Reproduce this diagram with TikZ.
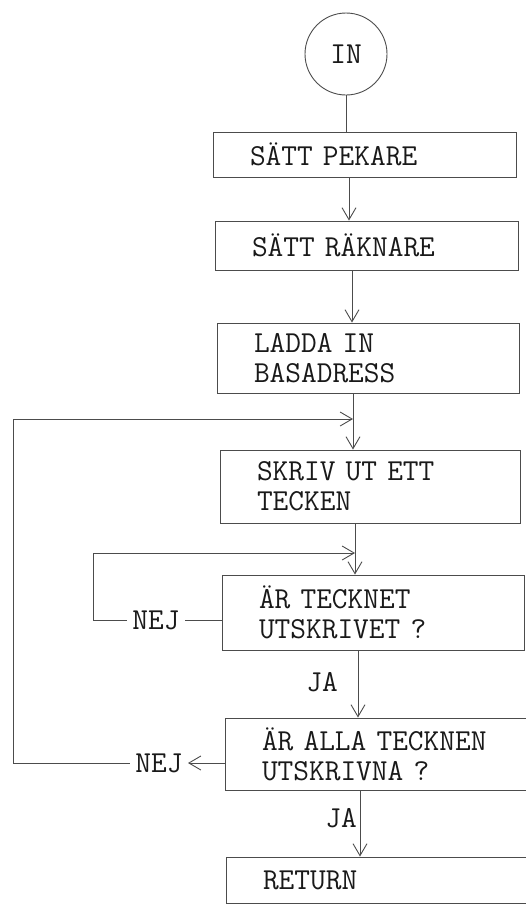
\documentclass[tikz,border=0pt]{standalone}
\usepackage{fontspec}
\usetikzlibrary{arrows.meta}
\begin{document}
\begin{tikzpicture}[x=1pt,y=-1pt,
  line width=0.9pt, color=black!70,
  flow/.style={-{Straight Barb[length=12pt,width=14pt]}},
  txt/.style={font=\ttfamily\fontsize{30.5}{30}\selectfont, text=black!90},
  box/.style={txt, draw, rectangle, inner xsep=0pt, inner ysep=0pt, align=left,
    execute at begin node={\leftskip=37pt\relax}},
  lbl/.style={txt, inner xsep=5pt, inner ysep=2pt}
]
\useasboundingbox (0,0) rectangle (526,905);

\node[txt, circle, draw, minimum size=82pt, inner sep=0pt, text depth=-6pt] (in) at (346,54) {IN};

\node[box, text width=303pt, minimum height=45pt] (b1) at (364.5,154.5) {SÄTT PEKARE};
\node[box, text width=303pt, minimum height=49pt] (b2) at (366.5,245.5) {SÄTT RÄKNARE};
\node[box, text width=302pt, minimum height=70pt] (b3) at (368,358) {LADDA IN\\BASADRESS};
\node[box, text width=300pt, minimum height=73pt] (b4) at (370,486.5) {SKRIV UT ETT\\TECKEN};
\node[box, text width=302pt, minimum height=75pt] (b5) at (373,612.5) {ÄR TECKNET\\UTSKRIVET ?};
\node[box, text width=306pt, minimum height=72pt] (b6) at (378,754) {ÄR ALLA TECKNEN\\UTSKRIVNA ?};
\node[box, text width=308pt, minimum height=46pt] (b7) at (380,880) {RETURN};

\coordinate (k2) at (349,0);
\coordinate (k3) at (352,0);
\coordinate (k4) at (353,0);
\coordinate (k5) at (355,0);
\coordinate (k6) at (358,0);
\coordinate (k7) at (360,0);

\draw (in) -- (b1.north -| in);
\draw[flow] (b1.south -| k2) -- (b2.north -| k2);
\draw[flow] (b2.south -| k3) -- (b3.north -| k3);
\draw[flow] (b3.south -| k4) -- (b4.north -| k4);
\draw[flow] (b4.south -| k5) -- (b5.north -| k5);
\draw[flow] (b5.south -| k6) -- (b6.north -| k6);
\draw[flow] (b6.south -| k7) -- (b7.north -| k7);

\node[txt, inner sep=0pt] (ja1) at (322,682) {JA};
\node[txt, inner sep=0pt] (ja2) at (341,818) {JA};

% inner loop
\node[lbl] (nej1) at (156,620) {NEJ};
\coordinate (s1) at (93,553);
\coordinate (s2) at (93,620);
\draw (b5.west |- nej1) -- (nej1.east);
\draw[flow] (nej1.west) -- (s2) -- (s1) -- (s1 -| k5);

% outer loop
\node[lbl] (nej2) at (159,763) {NEJ};
\coordinate (l1) at (13,419);
\coordinate (l2) at (13,763);
\draw[flow] (b6.west |- nej2) -- (nej2.east);
\draw[flow] (nej2.west) -- (l2) -- (l1) -- (l1 -| k4);
\end{tikzpicture}
\end{document}
